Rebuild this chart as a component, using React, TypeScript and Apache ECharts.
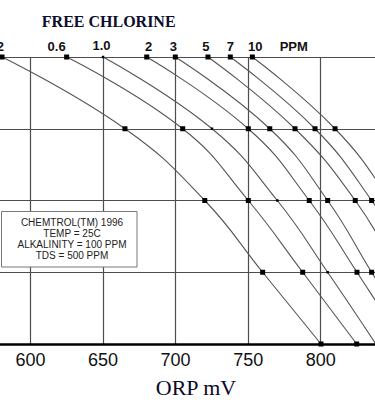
import React, { useEffect, useRef } from 'react';
import * as echarts from 'echarts';

// pH rows (top = 8.0, bottom = 7.0)
const phLevels = [8.0, 7.75, 7.5, 7.25, 7.0];
// Free chlorine curves (ppm) and the ORP (mV) where each crosses the pH rows
const ppmLabels = ['0.2', '0.6', '1.0', '2', '3', '5', '7', '10'];
const orp02 = [580.4, 665.1, 720.1, 760.0, 800.2];
const orp06 = [624.9, 704.9, 750.1, 787.6, 824.8];
const orp10 = [650.0, 725.1, 770.1, 804.8, 838.0];
const orp2 = [680.1, 750.1, 792.1, 825.0, 857.0];
const orp3 = [699.8, 764.9, 804.8, 835.1, 866.0];
const orp5 = [722.3, 782.3, 823.8, 854.0, 884.0];
const orp7 = [737.7, 796.1, 835.1, 866.0, 895.0];
const orp10ppm = [752.9, 809.9, 848.0, 879.0, 908.0];
const orpCurves = [orp02, orp06, orp10, orp2, orp3, orp5, orp7, orp10ppm];

const legendLines = ['CHEMTROL(TM) 1996', 'TEMP = 25C', 'ALKALINITY = 100 PPM', 'TDS = 500 PPM'];
const titleText = 'FREE CHLORINE';
const unitText = 'PPM';
const axisTitle = 'ORP mV';

export default function App() {
  const ref = useRef<HTMLDivElement>(null);
  useEffect(() => {
    const chart = echarts.init(ref.current!, null, { renderer: 'svg' });
    const labelShift: Record<string, number> = {
      '0.2': -7, '0.6': -10, '1.0': -1.5, '2': 2, '3': -2, '5': -2, '7': 0, '10': 3,
    };
    const series = orpCurves.map((orp, i) => {
      const name = ppmLabels[i];
      const small = name === '1.0';
      return {
        type: 'line',
        name,
        smooth: 0.45,
        clip: true,
        symbol: 'rect',
        symbolSize: small ? 2.5 : 5,
        showAllSymbol: true,
        lineStyle: { color: '#555', width: 1.1 },
        itemStyle: { color: '#000' },
        z: 3,
        data: orp.map((v, j) => ({
          value: [v, phLevels[j]],
          label:
            j === 0
              ? {
                  show: true,
                  formatter: name,
                  position: 'top',
                  distance: small ? 3.3 : 2,
                  offset: [labelShift[name], 0],
                  fontFamily: 'Liberation Sans',
                  fontWeight: 'bold',
                  fontSize: 13,
                  color: '#111',
                }
              : { show: false },
        })),
      };
    });

    const lineH = 11.2;
    const legendTexts = legendLines.map((t, i) => ({
      type: 'text',
      z: 101,
      style: {
        x: 72,
        y: 222 + i * lineH,
        text: t,
        fill: '#222',
        font: '10px "Liberation Sans", Arial, sans-serif',
        textAlign: 'center',
        textVerticalAlign: 'middle',
      },
    }));

    chart.setOption({
      animation: false,
      backgroundColor: '#fff',
      grid: {
        left: -42.05,
        right: -18.25,
        top: 57,
        bottom: 62,
        containLabel: false,
        outerBoundsMode: 'none',
      },
      xAxis: {
        type: 'value',
        min: 550,
        max: 850,
        interval: 50,
        axisLine: { show: true, onZero: false, lineStyle: { color: '#000', width: 2.5 } },
        axisTick: { show: false },
        axisLabel: {
          fontSize: 18,
          fontFamily: 'Liberation Sans',
          color: '#111',
          margin: 7,
          showMinLabel: false,
          showMaxLabel: false,
        },
        splitLine: { show: true, lineStyle: { color: '#4d4d4d', width: 1.2 } },
      },
      yAxis: {
        type: 'value',
        min: 7,
        max: 8,
        interval: 0.25,
        axisLine: { show: false },
        axisTick: { show: false },
        axisLabel: { show: false },
        splitLine: { show: true, lineStyle: { color: '#4d4d4d', width: 1.2 } },
      },
      series,
      graphic: [
        {
          type: 'text',
          z: 100,
          style: {
            x: 108.7,
            y: 21,
            text: titleText,
            fill: '#0d0d2b',
            font: 'bold 16px "Liberation Serif", "Times New Roman", serif',
            textAlign: 'center',
            textVerticalAlign: 'middle',
          },
        },
        {
          type: 'text',
          z: 100,
          style: {
            x: 293.8,
            y: 46.5,
            text: unitText,
            fill: '#111',
            font: 'bold 13px "Liberation Sans", Arial, sans-serif',
            textAlign: 'center',
            textVerticalAlign: 'middle',
          },
        },
        {
          type: 'text',
          z: 100,
          style: {
            x: 196,
            y: 387.5,
            text: axisTitle,
            fill: '#0a0a1e',
            font: '22px "Liberation Serif", "Times New Roman", serif',
            textAlign: 'center',
            textVerticalAlign: 'middle',
          },
        },
        {
          type: 'rect',
          z: 100,
          shape: { x: 1.5, y: 211.5, width: 135.5, height: 55.5 },
          style: { fill: '#fff', stroke: '#777', lineWidth: 1 },
        },
        ...legendTexts,
      ],
    });
    return () => chart.dispose();
  }, []);
  return (
    <div
      ref={ref}
      style={{ position: 'fixed', left: 0, top: 0, width: 375, height: 406 }}
    />
  );
}
